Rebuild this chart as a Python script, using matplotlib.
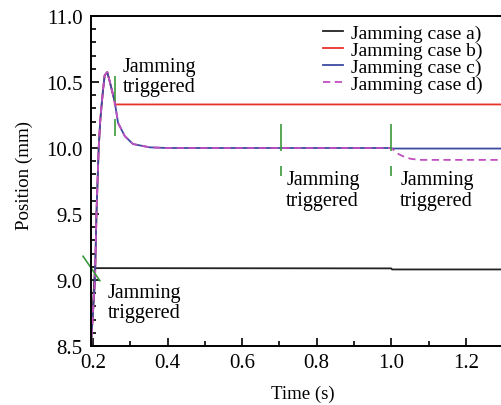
import numpy as np
import matplotlib
matplotlib.use("Agg")
import matplotlib.pyplot as plt

plt.rcParams['font.family'] = ['Liberation Serif', 'DejaVu Serif']

# rise, overshoot and settle (shared by all cases)
rise_t = [0.192, 0.205, 0.209, 0.215, 0.219, 0.222, 0.227, 0.231, 0.238, 0.245, 0.252, 0.258]
rise_y = [8.40, 9.00, 9.50, 10.00, 10.20, 10.30, 10.45, 10.55, 10.575, 10.50, 10.42, 10.35]
settle_t = [0.267, 0.285, 0.307, 0.352, 0.40, 1.0]
settle_y = [10.19, 10.09, 10.03, 10.005, 10.0, 10.0]

# case a) jams straight away
a_t = [0.192, 0.205, 1.0, 1.002, 1.30]
a_y = [8.40, 9.09, 9.088, 9.08, 9.08]
# case b) jams just after the peak
b_tail_t = [0.258, 1.30]
b_tail_y = [10.33, 10.33]
# case c) / d) jam at 1.0 s
c_tail_t = [1.002, 1.30]
c_tail_y = [9.996, 9.996]
d_tail_t = [1.019, 1.037, 1.054, 1.08, 1.30]
d_tail_y = [9.955, 9.93, 9.917, 9.91, 9.91]

labels = ["Jamming case a)", "Jamming case b)", "Jamming case c)", "Jamming case d)"]
colors = ["#222222", "#e8322c", "#3c4ba0", "#c04fc0"]

# green trigger markers (x, y0, y1)
mark_x = [0.258, 0.258, 0.705, 0.705, 1.0, 1.0]
mark_y0 = [10.545, 10.22, 10.18, 9.86, 10.18, 9.86]
mark_y1 = [10.356, 10.09, 9.98, 9.79, 9.98, 9.79]
diag_t = [0.173, 0.218]
diag_y = [9.18, 8.995]

note_x = [0.279, 0.718, 1.024, 0.240]
note_y = [10.69, 9.83, 9.83, 8.98]

fig = plt.figure(figsize=(5.02, 4.06), dpi=100)
ax = fig.add_axes([0.181, 0.1453, 0.819, 0.8128])

ax.plot(a_t, a_y, color=colors[0], lw=1.3, label=labels[0])
ax.plot(rise_t + b_tail_t, rise_y + b_tail_y, color=colors[1], lw=1.3, label=labels[1])
ax.plot(rise_t + settle_t + c_tail_t, rise_y + settle_y + c_tail_y,
        color=colors[2], lw=1.3, label=labels[2])
ax.plot(rise_t + settle_t + d_tail_t, rise_y + settle_y + d_tail_y,
        color=colors[3], lw=1.3, ls=(0, (4, 2.5)), label=labels[3])

ax.vlines(mark_x, mark_y0, mark_y1, color="#3a9a3a", lw=1.2)
ax.plot(diag_t, diag_y, color="#3a9a3a", lw=1.2, clip_on=False)

for x, y in zip(note_x, note_y):
    ax.text(x, y, "Jamming\ntriggered", fontsize=14.5, va="top", ha="left", linespacing=1.1)

ax.set_xlim(0.194, 1.297)
ax.set_ylim(8.5, 11.0)
ax.set_xticks([0.2, 0.4, 0.6, 0.8, 1.0, 1.2])
ax.set_xticks(np.arange(0.3, 1.3, 0.2), minor=True)
ax.set_yticks([8.5, 9.0, 9.5, 10.0, 10.5, 11.0])
ax.set_yticks(np.arange(8.6, 11.0, 0.1), minor=True)
ax.xaxis.set_major_formatter(matplotlib.ticker.FormatStrFormatter('%.1f'))
ax.yaxis.set_major_formatter(matplotlib.ticker.FormatStrFormatter('%.1f'))
ax.tick_params(which="both", direction="in", labelsize=15, width=1.2)
ax.tick_params(which="major", length=6)
ax.tick_params(which="minor", length=3.5)
ax.tick_params(axis="x", pad=5)
ax.tick_params(axis="y", pad=6)
ax.spines["right"].set_visible(False)
for s in ["left", "bottom", "top"]:
    ax.spines[s].set_linewidth(1.4)

ax.set_xlabel("Time (s)", fontsize=13.5)
ax.xaxis.set_label_coords(0.516, -0.118)
ax.set_ylabel("Position (mm)", fontsize=13.7)
ax.yaxis.set_label_coords(-0.14, 0.52)

ax.legend(loc="upper left", bbox_to_anchor=(0.564, 0.975), frameon=False, fontsize=14,
          handlelength=1.05, handletextpad=0.4, labelspacing=-0.03, borderpad=0,
          borderaxespad=0)

fig.savefig("out.png", dpi=100)
